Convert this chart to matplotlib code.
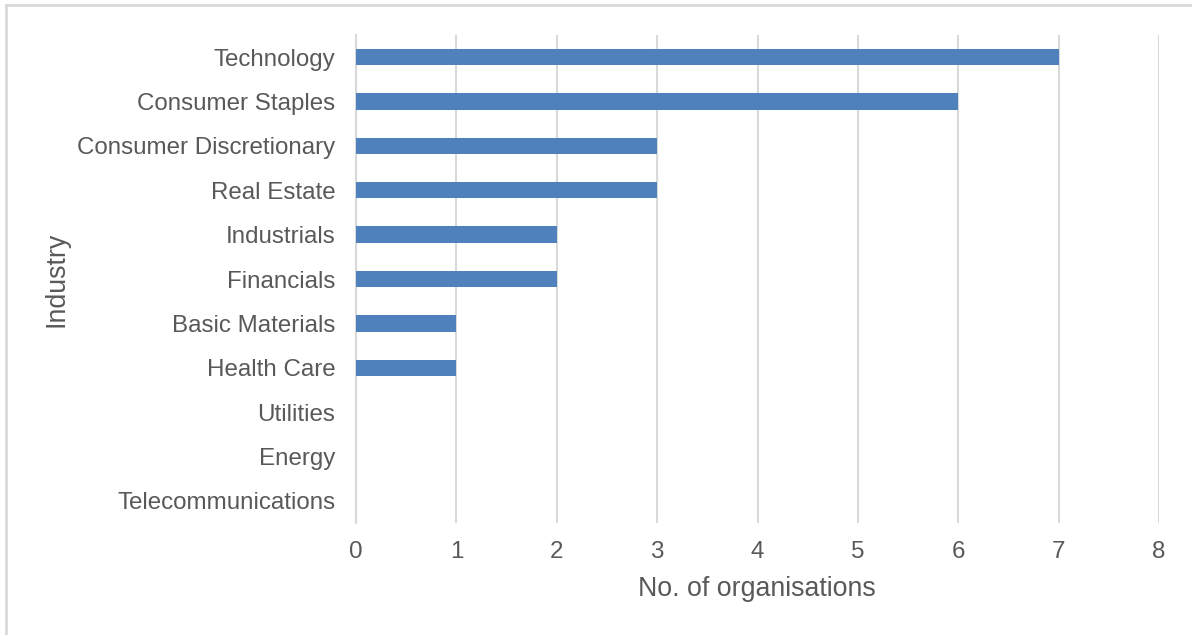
import matplotlib
matplotlib.use("Agg")
import matplotlib.pyplot as plt
from matplotlib.patches import Rectangle

# industry counts, top to bottom as shown
industries = ["Technology", "Consumer Staples", "Consumer Discretionary",
              "Real Estate", "Industrials", "Financials", "Basic Materials",
              "Health Care", "Utilities", "Energy", "Telecommunications"]
counts = [7, 6, 3, 3, 2, 2, 1, 1, 0, 0, 0]
xticks = [0, 1, 2, 3, 4, 5, 6, 7, 8]

plt.rcParams['font.family'] = ['Liberation Sans', 'DejaVu Sans']
txt = '#595959'
grid = '#d9d9d9'

fig = plt.figure(figsize=(11.92, 6.35), dpi=100)
ax = fig.add_axes([356/1192, 1 - 523/635, (1159 - 356)/1192, (523 - 35)/635])

ypos = list(range(len(industries)))
ax.barh(ypos, counts, height=0.37, color='#4f81bd', zorder=3)
ax.set_ylim(len(industries) - 0.5, -0.5)
ax.set_xlim(0, 8)

ax.set_yticks(ypos)
ax.set_yticklabels(industries, fontsize=17.4, color=txt)
ax.set_xticks(xticks)
ax.set_xticklabels([str(t) for t in xticks], fontsize=17.4, color=txt)
ax.tick_params(length=0)
ax.tick_params(axis='y', pad=15)
ax.tick_params(axis='x', pad=13)

ax.grid(axis='x', color=grid, linewidth=1.5, zorder=0)
for s in ['top', 'right', 'bottom']:
    ax.spines[s].set_visible(False)
ax.spines['left'].set_color(grid)
ax.spines['left'].set_linewidth(1.5)

fig.text(757/1192, 1 - 589/635, "No. of organisations", fontsize=19.3,
         color=txt, ha='center', va='center')
fig.text(57/1192, 1 - 279/635, "Industry", fontsize=19.3, color=txt,
         ha='center', va='center', rotation=90)

# outer chart frame (only left and top edges fall inside the image)
fig.patches.append(Rectangle((6/1192, -0.1), 1.2, 1 - 5/635 + 0.1,
                             transform=fig.transFigure, fill=False,
                             edgecolor='#d9d9d9', linewidth=2))

fig.savefig("out.png", dpi=100)
